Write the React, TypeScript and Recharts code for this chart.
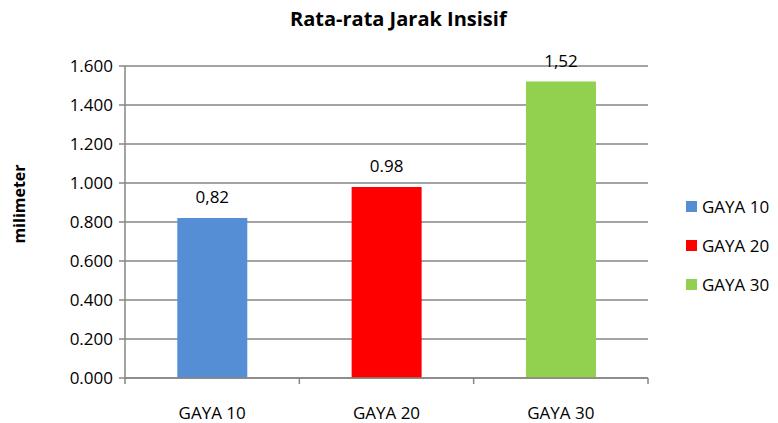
import { Bar, BarChart, CartesianGrid, Cell, LabelList, XAxis, YAxis } from 'recharts'

const categories = ['GAYA 10', 'GAYA 20', 'GAYA 30']
const values = [0.82, 0.98, 1.52]
const valueLabels = ['0,82', '0.98', '1,52']
const colors = ['#558ED5', '#FF0000', '#92D050']
const yTicks = [0, 0.2, 0.4, 0.6, 0.8, 1.0, 1.2, 1.4, 1.6]

const data = categories.map((name, i) => ({ name, value: values[i], label: valueLabels[i] }))

const FONT = '"Open Sans", sans-serif'
const AXIS_GRAY = '#868686'

function CategoryTick(props: any) {
  const { x, y, payload, index } = props
  const half = payload.offset ?? 0
  const top = y - 8
  return (
    <g>
      <line x1={x - half} x2={x - half} y1={top} y2={top + 6} stroke={AXIS_GRAY} strokeWidth={1.5} />
      {index === categories.length - 1 && (
        <line x1={x + half} x2={x + half} y1={top} y2={top + 6} stroke={AXIS_GRAY} strokeWidth={1.5} />
      )}
      <text x={x} y={y + 33} textAnchor="middle" fontSize={17} fill="#000" fontFamily={FONT}>
        {payload.value}
      </text>
    </g>
  )
}

function LegendBox() {
  return (
    <div
      style={{
        position: 'absolute',
        left: 686,
        top: 187,
        fontFamily: FONT,
        fontSize: 17,
        color: '#000',
      }}
    >
      {categories.map((c, i) => (
        <div key={c} style={{ display: 'flex', alignItems: 'center', height: 39 }}>
          <span style={{ width: 11, height: 11, background: colors[i], marginRight: 5, display: 'inline-block' }} />
          <span>{c}</span>
        </div>
      ))}
    </div>
  )
}

export default function App() {
  return (
    <div style={{ position: 'absolute', left: 0, top: 0, width: 778, height: 423, background: '#fff' }}>
      <div
        style={{
          position: 'absolute',
          left: 290,
          width: 206,
          top: 5,
          textAlign: 'center',
          whiteSpace: 'nowrap',
          fontFamily: FONT,
          fontWeight: 700,
          fontSize: 20,
        }}
      >
        Rata-rata Jarak Insisif
      </div>
      <div
        style={{
          position: 'absolute',
          left: 19,
          top: 204,
          transform: 'translate(-50%, -50%) rotate(-90deg)',
          fontFamily: FONT,
          fontWeight: 700,
          fontSize: 16,
          whiteSpace: 'nowrap',
        }}
      >
        milimeter
      </div>
      <BarChart
        width={778}
        height={423}
        data={data}
        margin={{ top: 66, right: 130, bottom: 15, left: 0 }}
        barCategoryGap="30%"
      >
        <CartesianGrid vertical={false} stroke={AXIS_GRAY} strokeWidth={1.3} />
        <XAxis
          dataKey="name"
          height={30}
          axisLine={{ stroke: AXIS_GRAY, strokeWidth: 1.5 }}
          tickLine={false}
          tick={<CategoryTick />}
          interval={0}
        />
        <YAxis
          width={125}
          domain={[0, 1.6]}
          ticks={yTicks}
          tickFormatter={(v: number) => v.toFixed(3)}
          axisLine={{ stroke: AXIS_GRAY, strokeWidth: 1.5 }}
          tickLine={{ stroke: AXIS_GRAY, strokeWidth: 1.5 }}
          tickSize={6}
          tickMargin={6}
          tick={{ fontSize: 17, fill: '#000', fontFamily: FONT }}
        />
        <Bar dataKey="value" isAnimationActive={false}>
          {data.map((d, i) => (
            <Cell key={d.name} fill={colors[i]} />
          ))}
          <LabelList
            dataKey="label"
            position="top"
            offset={15}
            style={{ fontSize: 17, fill: '#000', fontFamily: FONT }}
          />
        </Bar>
      </BarChart>
      <LegendBox />
    </div>
  )
}
